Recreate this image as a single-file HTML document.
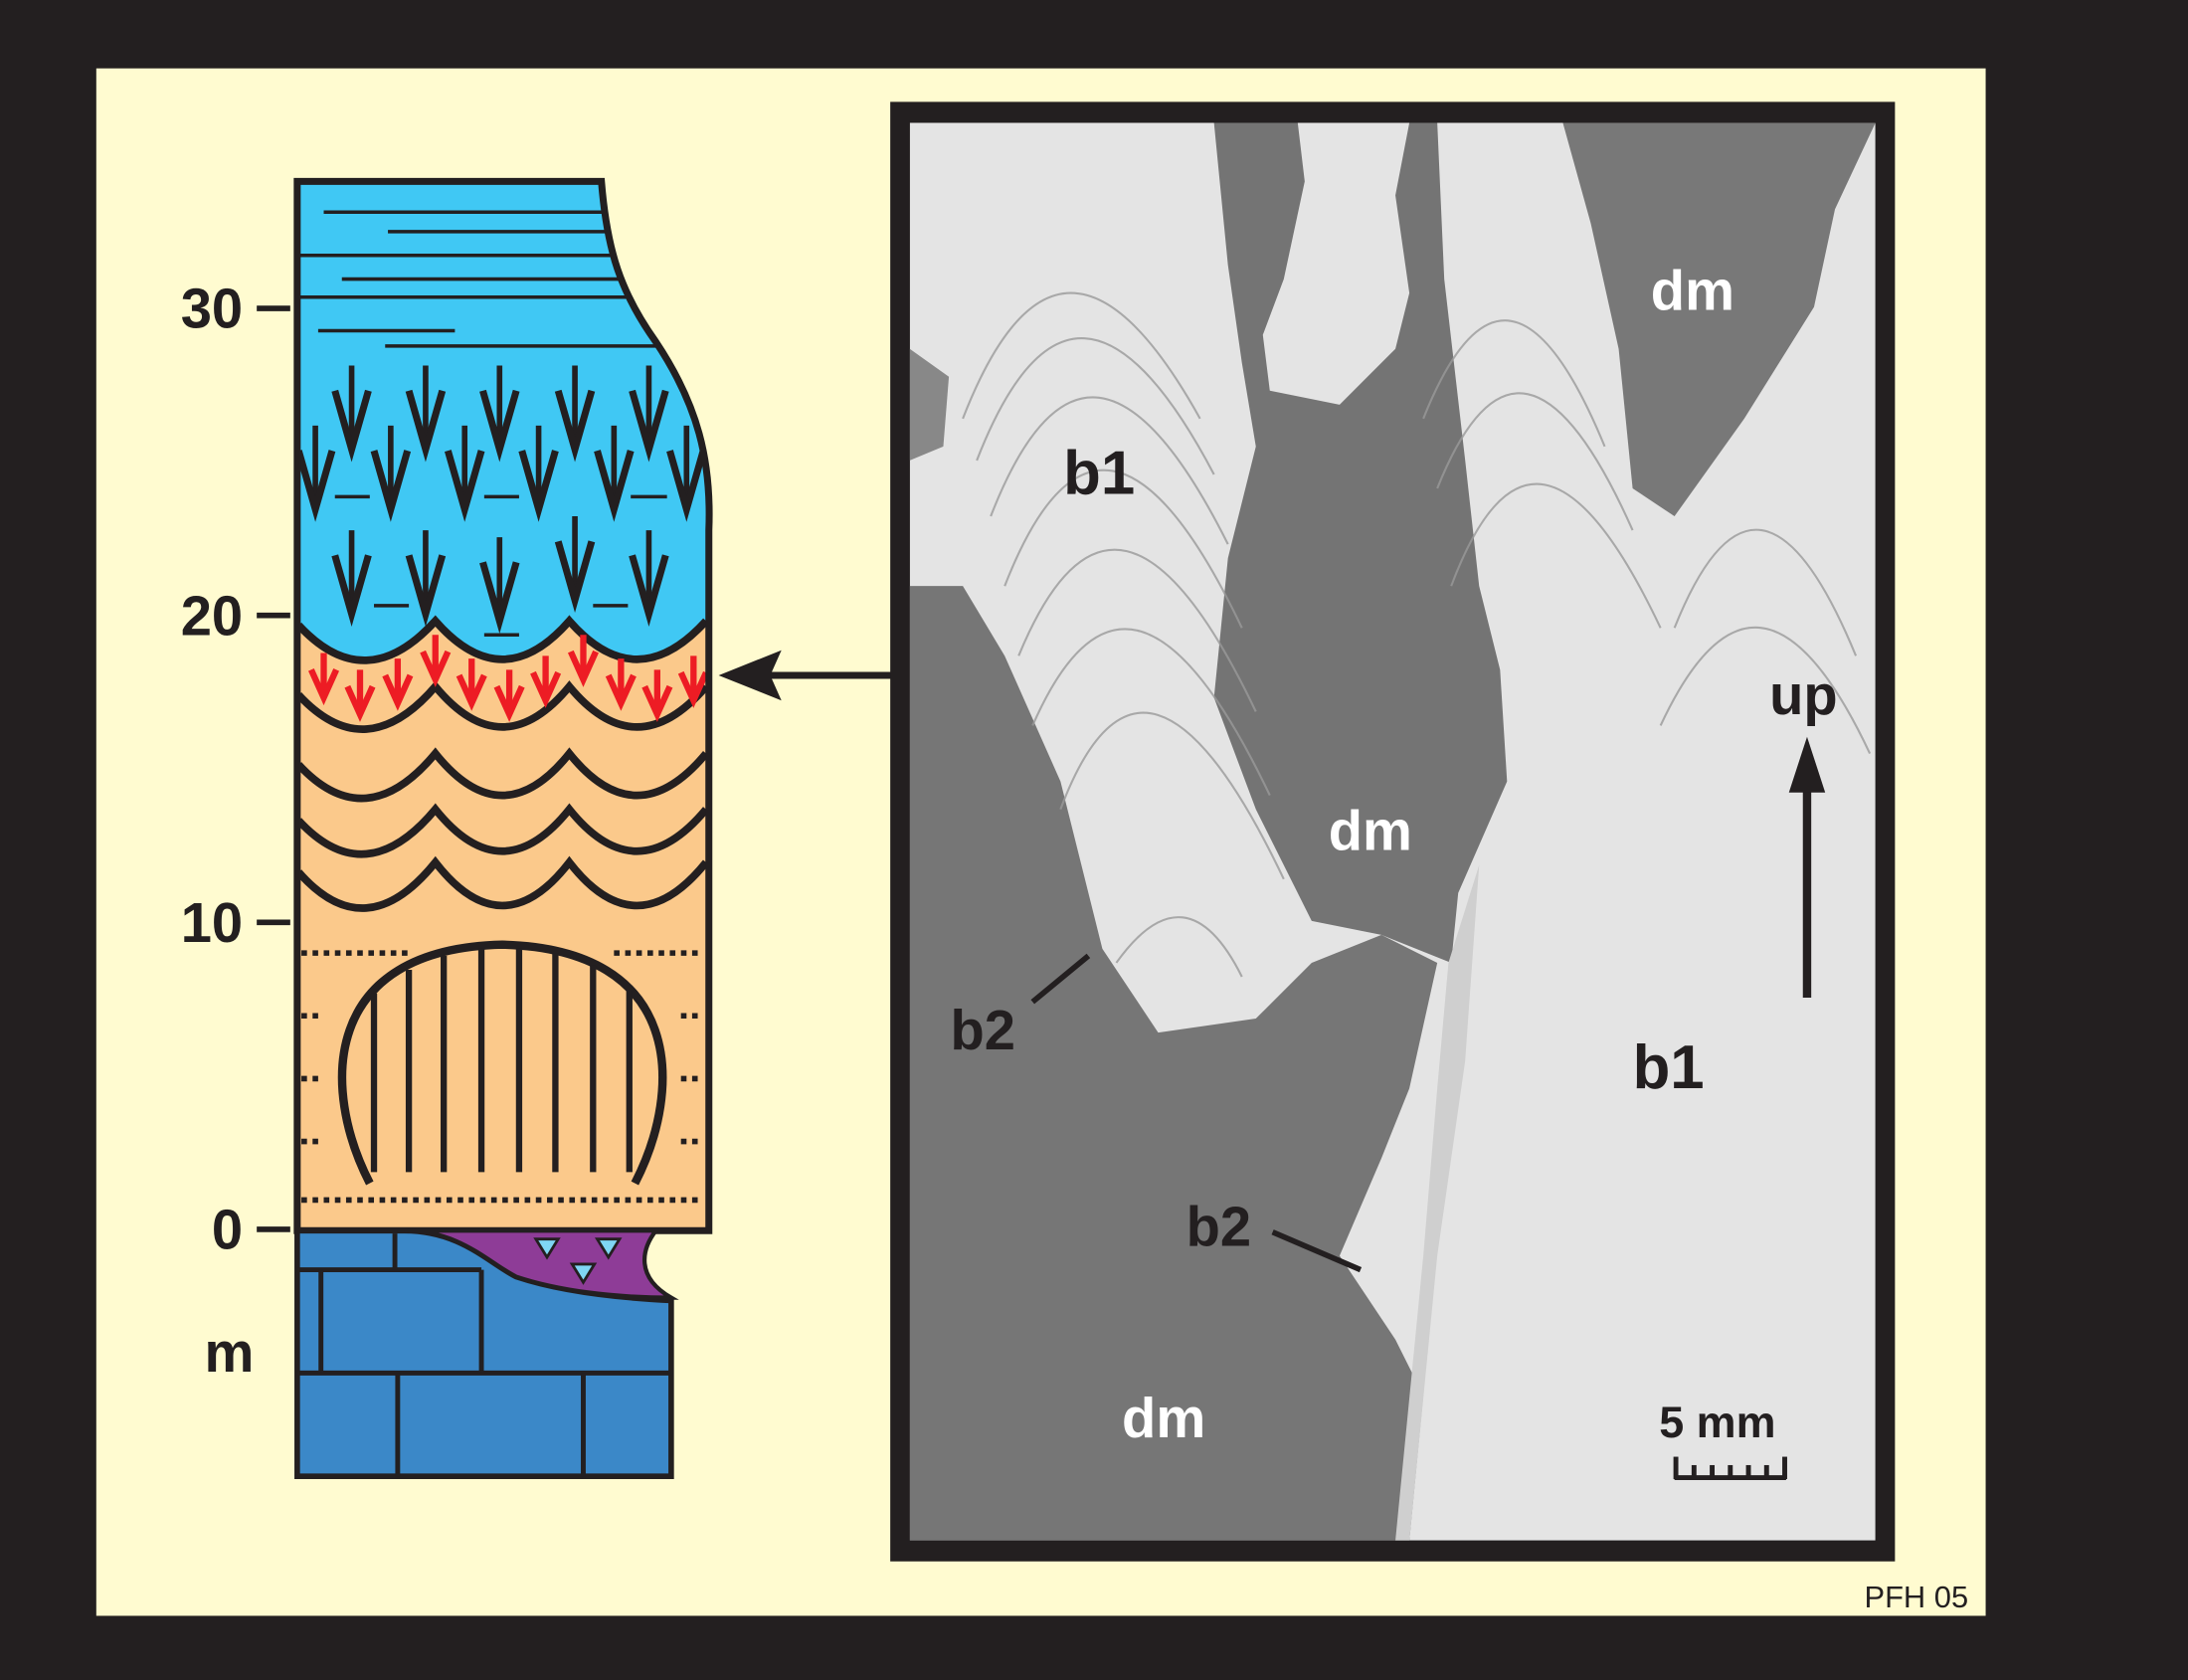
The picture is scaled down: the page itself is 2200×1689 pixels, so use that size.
<!DOCTYPE html>
<html><head><meta charset="utf-8"><style>html,body{margin:0;padding:0;background:#231f20}svg{display:block}</style></head>
<body>
<svg width="2200" height="1689" viewBox="0 0 1568 1204" preserveAspectRatio="none" xmlns="http://www.w3.org/2000/svg" font-family="Liberation Sans, sans-serif">
<defs>
<clipPath id="col"><path d="M213,130 H431 C435,180 445,210 470,245 C500,290 510,330 508,380 V882 H213 Z"/></clipPath>
<clipPath id="ph"><rect x="652" y="88" width="692" height="1016"/></clipPath>
<g id="bk" fill="none" stroke="#231f20" stroke-width="4"><line x1="0" y1="-60" x2="0" y2="0"/><path d="M-12,-42 L0,0 L12,-42" stroke-width="5"/></g>
<g id="rd" fill="none" stroke="#ed1c24" stroke-width="4.5"><line x1="0" y1="-32" x2="0" y2="0"/><path d="M-9,-20 L0,0 L9,-20"/></g>
</defs>
<rect width="1568" height="1204" fill="#231f20"/>
<rect x="69" y="49" width="1354" height="1109" fill="#fffbd0"/>
<g clip-path="url(#col)">
<rect x="200" y="120" width="320" height="340" fill="#40c8f4"/>
<rect x="200" y="440" width="320" height="450" fill="#fbc98b"/>
<path d="M200,460 L214,448 Q262,500 312,445 Q360,500 408,445 Q456,500 506,445 L520,460 L520,120 L200,120Z" fill="#40c8f4"/>
<g fill="none" stroke="#231f20" stroke-width="5.5">
<path d="M214,448 Q262,500 312,445 Q360,500 408,445 Q456,500 506,445"/>
<path d="M214,498 Q262,550 312,492 Q360,550 408,492 Q456,550 506,492"/>
<path d="M214,548 Q262,600 312,540 Q360,600 408,540 Q456,600 506,540"/>
<path d="M214,588 Q262,640 312,580 Q360,640 408,580 Q456,640 506,580"/>
<path d="M214,625 Q262,680 312,618 Q360,680 408,618 Q456,680 506,618"/>
</g>
<g stroke="#231f20" stroke-width="2.5">
<line x1="232" y1="152" x2="520" y2="152"/><line x1="278" y1="166" x2="520" y2="166"/><line x1="213" y1="183" x2="520" y2="183"/><line x1="245" y1="200" x2="520" y2="200"/><line x1="213" y1="213" x2="520" y2="213"/><line x1="228" y1="237" x2="326" y2="237"/><line x1="276" y1="248" x2="520" y2="248"/>
<line x1="240" y1="356" x2="265" y2="356"/><line x1="347" y1="356" x2="372" y2="356"/><line x1="452" y1="356" x2="478" y2="356"/>
<line x1="268" y1="434" x2="293" y2="434"/><line x1="425" y1="434" x2="450" y2="434"/><line x1="347" y1="455" x2="372" y2="455"/>
</g>
<use href="#bk" x="252" y="322"/><use href="#bk" x="305" y="322"/><use href="#bk" x="358" y="322"/><use href="#bk" x="412" y="322"/><use href="#bk" x="465" y="322"/>
<use href="#bk" x="226" y="365"/><use href="#bk" x="280" y="365"/><use href="#bk" x="333" y="365"/><use href="#bk" x="386" y="365"/><use href="#bk" x="440" y="365"/><use href="#bk" x="492" y="365"/>
<use href="#bk" x="252" y="440"/><use href="#bk" x="305" y="440"/><use href="#bk" x="358" y="445"/><use href="#bk" x="412" y="430"/><use href="#bk" x="465" y="440"/>
<use href="#rd" x="232" y="500"/><use href="#rd" x="258" y="512"/><use href="#rd" x="285" y="504"/><use href="#rd" x="312" y="487"/><use href="#rd" x="338" y="504"/><use href="#rd" x="365" y="512"/><use href="#rd" x="391" y="502"/><use href="#rd" x="418" y="487"/><use href="#rd" x="445" y="504"/><use href="#rd" x="471" y="512"/><use href="#rd" x="497" y="502"/>
<g stroke="#231f20" stroke-width="4" stroke-dasharray="4,4">
<line x1="216" y1="683" x2="296" y2="683"/><line x1="440" y1="683" x2="504" y2="683"/>
<line x1="216" y1="728" x2="232" y2="728"/><line x1="488" y1="728" x2="504" y2="728"/>
<line x1="216" y1="773" x2="232" y2="773"/><line x1="488" y1="773" x2="504" y2="773"/>
<line x1="216" y1="818" x2="232" y2="818"/><line x1="488" y1="818" x2="504" y2="818"/>
<line x1="216" y1="860" x2="504" y2="860"/>
</g>
<path d="M265,848 C230,780 230,680 360,677 C490,680 490,780 455,848" fill="none" stroke="#231f20" stroke-width="6"/>
<g stroke="#231f20" stroke-width="4.5">
<line x1="268" y1="712" x2="268" y2="840"/><line x1="293" y1="695" x2="293" y2="840"/><line x1="318" y1="685" x2="318" y2="840"/><line x1="345" y1="680" x2="345" y2="840"/><line x1="372" y1="680" x2="372" y2="840"/><line x1="398" y1="683" x2="398" y2="840"/><line x1="425" y1="692" x2="425" y2="840"/><line x1="451" y1="710" x2="451" y2="840"/>
</g>
</g>
<path d="M213,130 H431 C435,180 445,210 470,245 C500,290 510,330 508,380 V882 H213 Z" fill="none" stroke="#231f20" stroke-width="5"/>
<path d="M213,882 H290 C330,882 350,905 370,915 C400,925 440,930 481,932 V1058 H213 Z" fill="#3b88c8" stroke="#231f20" stroke-width="4"/>
<path d="M290,882 H470 C460,895 455,915 481,930 C440,930 400,925 370,915 C350,905 330,882 290,882Z" fill="#8e3c97" stroke="#231f20" stroke-width="3"/>
<g fill="#7fd6f4" stroke="#231f20" stroke-width="2"><path d="M384,888 h16 l-8,13z"/><path d="M428,888 h16 l-8,13z"/><path d="M410,906 h16 l-8,13z"/></g>
<g stroke="#231f20" stroke-width="3.5">
<line x1="213" y1="910" x2="345" y2="910"/><line x1="283" y1="884" x2="283" y2="910"/><line x1="230" y1="910" x2="230" y2="984"/><line x1="345" y1="910" x2="345" y2="984"/>
<line x1="213" y1="984" x2="481" y2="984"/><line x1="285" y1="984" x2="285" y2="1058"/><line x1="418" y1="984" x2="418" y2="1058"/>
</g>
<g stroke="#231f20" stroke-width="4"><line x1="184" y1="221" x2="208" y2="221"/><line x1="184" y1="441" x2="208" y2="441"/><line x1="184" y1="661" x2="208" y2="661"/><line x1="184" y1="881" x2="208" y2="881"/></g>
<g font-weight="bold" font-size="40" fill="#231f20" text-anchor="end">
<text x="174" y="235">30</text><text x="174" y="455">20</text><text x="174" y="675">10</text><text x="174" y="895">0</text><text x="182" y="983">m</text></g>
<line x1="545" y1="484" x2="640" y2="484" stroke="#231f20" stroke-width="5"/>
<path d="M515,484 L560,466 L552,484 L560,502Z" fill="#231f20"/>
<rect x="638" y="73" width="720" height="1046" fill="#231f20"/>
<g clip-path="url(#ph)">
<rect x="652" y="88" width="692" height="1016" fill="#e4e4e4"/>
<path d="M652,420 L690,420 L720,470 L760,560 L790,680 L830,740 L900,730 L940,690 L990,670 L1030,690 L1010,780 L990,830 L960,900 L1000,960 L1020,1000 L1010,1104 L652,1104Z" fill="#767676"/>
<path d="M870,88 L930,88 L935,130 L920,200 L905,240 L910,280 L960,290 L1000,250 L1010,210 L1000,140 L1010,88 L1030,88 L1035,200 L1050,330 L1060,420 L1075,480 L1080,560 L1045,640 L1040,690 L990,670 L940,660 L900,580 L870,500 L880,400 L900,320 L890,260 L880,190Z" fill="#747474"/>
<path d="M1120,88 L1344,88 L1315,150 L1300,220 L1250,300 L1200,370 L1170,350 L1160,250 L1140,160Z" fill="#787878"/>
<path d="M652,250 L680,270 L676,320 L652,330Z" fill="#888"/>
<path d="M1038,690 L1060,620 L1050,760 L1030,900 L1010,1104 L1000,1104 L1020,900 L1030,780Z" fill="#cfcfcf"/>
<g fill="none" stroke="#9a9a9a" stroke-width="1.5" opacity=".8">
<path d="M690,300 Q760,120 860,300"/><path d="M700,330 Q770,150 870,340"/><path d="M710,370 Q780,190 880,390"/><path d="M720,420 Q790,240 890,450"/><path d="M730,470 Q800,300 900,510"/><path d="M740,520 Q810,360 910,570"/><path d="M760,580 Q820,420 920,630"/><path d="M800,690 Q850,620 890,700"/>
<path d="M1020,300 Q1080,150 1150,320"/><path d="M1030,350 Q1090,200 1170,380"/><path d="M1040,420 Q1100,260 1190,450"/><path d="M1200,450 Q1260,300 1330,470"/><path d="M1190,520 Q1260,370 1340,540"/>
</g>
</g>
<g font-weight="bold" fill="#231f20" font-size="44"><text x="762" y="354">b1</text><text x="1170" y="780">b1</text></g>
<g font-weight="bold" fill="#231f20" font-size="40"><text x="681" y="752">b2</text><text x="850" y="893">b2</text><text x="1268" y="512">up</text></g>
<g font-weight="bold" fill="#fff" font-size="40"><text x="1183" y="222">dm</text><text x="952" y="609">dm</text><text x="804" y="1030">dm</text></g>
<g stroke="#231f20" stroke-width="4"><line x1="740" y1="718" x2="780" y2="685"/><line x1="912" y1="883" x2="975" y2="910"/><line x1="1295" y1="555" x2="1295" y2="715" stroke-width="6"/></g>
<path d="M1295,528 L1282,568 L1308,568Z" fill="#231f20"/>
<text x="1189" y="1030" font-weight="bold" font-size="32" fill="#231f20">5 mm</text>
<g stroke="#231f20" stroke-width="3.5"><line x1="1200" y1="1059" x2="1280" y2="1059"/><line x1="1201" y1="1044" x2="1201" y2="1060"/><line x1="1214" y1="1050" x2="1214" y2="1060"/><line x1="1227" y1="1050" x2="1227" y2="1060"/><line x1="1240" y1="1050" x2="1240" y2="1060"/><line x1="1253" y1="1050" x2="1253" y2="1060"/><line x1="1266" y1="1050" x2="1266" y2="1060"/><line x1="1279" y1="1044" x2="1279" y2="1060"/></g>
<text x="1336" y="1152" font-size="22" fill="#231f20">PFH 05</text>
</svg>
</body></html>
